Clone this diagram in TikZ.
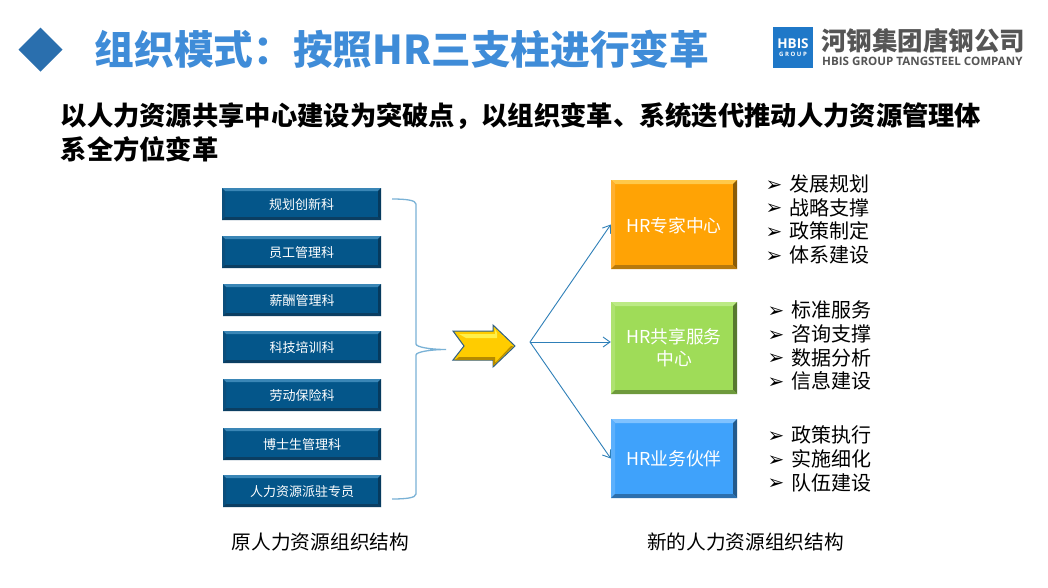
\documentclass[tikz,border=0pt]{standalone}
\usepackage{fontspec}
\setmainfont{Noto Sans CJK SC}
\newfontfamily\djv{DejaVu Sans}
\newfontfamily\lat{Open Sans}
\usetikzlibrary{arrows.meta}
\definecolor{ttl}{HTML}{3F8CD8}
\definecolor{dia}{HTML}{2A6FAE}
\definecolor{lnk}{HTML}{2E7FB8}
\definecolor{brk}{HTML}{7AB2D6}
\definecolor{navy}{HTML}{04568A}
\definecolor{lg}{HTML}{555555}
\definecolor{logob}{HTML}{1F78C8}
\definecolor{orgm}{HTML}{FFA305}
\definecolor{orgt}{HTML}{FFC94A}
\definecolor{orgs}{HTML}{FFB030}
\definecolor{orgr}{HTML}{8A5C08}
\definecolor{orgb}{HTML}{B87A0C}
\definecolor{grnm}{HTML}{9FDC58}
\definecolor{grnt}{HTML}{BCEA85}
\definecolor{grns}{HTML}{AEE270}
\definecolor{grnr}{HTML}{57792F}
\definecolor{grnb}{HTML}{6E9A3C}
\definecolor{blum}{HTML}{3FA2FB}
\definecolor{blut}{HTML}{7FC2FF}
\definecolor{blus}{HTML}{5CB0FC}
\definecolor{blur}{HTML}{235A8C}
\definecolor{blub}{HTML}{2C6FAD}
\definecolor{navt}{HTML}{3A86B6}
\definecolor{navs}{HTML}{0A4E7C}
\definecolor{navr}{HTML}{063A5E}
\definecolor{navb}{HTML}{0B3E62}
\definecolor{gold}{HTML}{FFCC00}
\definecolor{goldh}{HTML}{FFF04A}
\definecolor{goldd}{HTML}{B58A00}
\definecolor{arredge}{HTML}{2F5F86}
\tikzset{
  x=1pt,y=-1pt,
  bevel/.style n args={5}{draw=none,fill=#1,text=white,inner sep=0pt,align=center,
    path picture={
      \fill[#2] (path picture bounding box.north west) -- (path picture bounding box.north east) -- ([xshift=-\bw,yshift=-\bw]path picture bounding box.north east) -- ([xshift=\bw,yshift=-\bw]path picture bounding box.north west) -- cycle;
      \fill[#3] (path picture bounding box.north west) -- ([xshift=\bw,yshift=-\bw]path picture bounding box.north west) -- ([xshift=\bw,yshift=\bw]path picture bounding box.south west) -- (path picture bounding box.south west) -- cycle;
      \fill[#4] (path picture bounding box.north east) -- ([xshift=-\bw,yshift=-\bw]path picture bounding box.north east) -- ([xshift=-\bw,yshift=\bw]path picture bounding box.south east) -- (path picture bounding box.south east) -- cycle;
      \fill[#5] (path picture bounding box.south west) -- ([xshift=\bw,yshift=\bw]path picture bounding box.south west) -- ([xshift=-\bw,yshift=\bw]path picture bounding box.south east) -- (path picture bounding box.south east) -- cycle;
    }},
  oldbox/.style={bevel={navy}{navt}{navs}{navr}{navb},
    minimum height=32pt,font=\fontsize{13}{14}\selectfont},
  newbox/.style={minimum width=126pt,font=\fontsize{17.8}{22}\selectfont},
  tlist/.style={anchor=west,inner sep=0pt,font=\fontsize{20}{24}\selectfont},
  captext/.style={inner sep=0pt,font=\fontsize{19.7}{23}\selectfont},
  link/.style={draw=lnk,line width=0.9pt,-{Straight Barb[length=7pt,width=10pt,line width=0.9pt]}},
}
\newcommand{\bw}{3pt}
\newcommand{\bul}{\makebox[24pt][l]{\raisebox{0.5pt}{\djv\fontsize{20}{20}\selectfont ➢}}}
\newcommand{\dn}[1]{\raisebox{0pt}[\dimexpr\height+2pt][\depth]{#1}}
\begin{document}
\begin{tikzpicture}
\useasboundingbox (0,0) rectangle (1048,587);
\fill[white] (0,0) rectangle (1048,587);
% header
\fill[dia] (40.5,27.5) -- (62.5,49.5) -- (40.5,71.5) -- (18.5,49.5) -- cycle;
\node[anchor=west,inner sep=0pt,text=ttl,font=\bfseries\fontsize{39.7}{46}\selectfont] (title) at (94.5,49) {组织模式：按照HR三支柱进行变革};
% logo
\node[fill=logob,minimum width=40pt,minimum height=41pt,inner sep=0pt] (logobox) at (793,47.5) {};
\node[text=white,inner sep=0pt,font=\lat\bfseries\fontsize{13.5}{14}\selectfont] (logoa) at (793,43.5) {HBIS};
\node[text=white,inner sep=0pt,font=\lat\bfseries\fontsize{6}{7}\selectfont] (logob) at (793,54.5) {G R O U P};
\node[anchor=west,inner sep=0pt,text=lg,font=\bfseries\fontsize{25.5}{28}\selectfont] (logoc) at (821,41) {河钢集团唐钢公司};
\node[anchor=west,inner sep=0pt,text=lg,font=\lat\bfseries\fontsize{11.6}{13}\selectfont] (logod) at (822,61.5) {HBIS GROUP TANGSTEEL COMPANY};
% subtitle
\node[anchor=west,inner sep=0pt,font=\bfseries\fontsize{26.3}{30}\selectfont] (sub1) at (60.5,116) {以人力资源共享中心建设为突破点，以组织变革、系统迭代推动人力资源管理体};
\node[anchor=west,inner sep=0pt,font=\bfseries\fontsize{26.3}{30}\selectfont] (sub2) at (60.5,149) {系全方位变革};
% old boxes
\node[oldbox,minimum width=159pt] (o1) at (301.5,204) {\dn{规划创新科}};
\node[oldbox,minimum width=159pt] (o2) at (301.5,252) {\dn{员工管理科}};
\node[oldbox,minimum width=158pt] (o3) at (302,300) {\dn{薪酬管理科}};
\node[oldbox,minimum width=158pt] (o4) at (302,347) {\dn{科技培训科}};
\node[oldbox,minimum width=158pt] (o5) at (302,395) {\dn{劳动保险科}};
\node[oldbox,minimum width=158pt] (o6) at (302,444) {\dn{博士生管理科}};
\node[oldbox,minimum width=158pt] (o7) at (302,491) {\dn{人力资源派驻专员}};
% bracket
\coordinate (bt) at (392,199);
\coordinate (bm) at (446,349.5);
\coordinate (bb) at (392,499);
\draw[draw=brk,line width=1.3pt] (bt) .. controls (405,199) and (416,200) .. (416,204)
  -- (416,344) .. controls (416,347) and (430,349.5) .. (bm)
  .. controls (430,349.5) and (416,352) .. (416,355)
  -- (416,494) .. controls (416,498) and (405,499) .. (bb);
% block arrow
\fill[gold,draw=arredge,line width=1pt]
  (453,331) -- (493,331) -- (493,325) -- (515,346) -- (493,367) -- (493,360) -- (453,360) -- (464,346) -- cycle;
\fill[goldh] (459,334) -- (495,334) -- (495,329) -- (497,333) -- (497,338) -- (466,338) -- cycle;
\fill[goldd] (459,357) -- (495,357) -- (495,363) -- (511,346) -- (513,346) -- (493,366) -- (493,360) -- (455,360) -- cycle;
% new boxes
\def\bw{4pt}
\node[bevel={orgm}{orgt}{orgs}{orgr}{orgb},newbox,minimum height=89pt] (n1) at (674,224.5) {\dn{HR专家中心}};
\node[bevel={grnm}{grnt}{grns}{grnr}{grnb},newbox,minimum height=92pt] (n2) at (674,348) {HR共享服务\\中心};
\node[bevel={blum}{blut}{blus}{blur}{blub},newbox,minimum height=79pt] (n3) at (674,458.5) {HR业务伙伴};
% links
\coordinate (hub) at (530,342);
\draw[link] (hub) -- (n1.west);
\draw[link] (hub) -- (n2.west |- hub);
\draw[link] (hub) -- (n3.west);
% lists
\node[tlist] (a1) at (765.5,184) {\bul 发展规划};
\node[tlist] (a2) at (765.5,207.5) {\bul 战略支撑};
\node[tlist] (a3) at (765.5,231) {\bul 政策制定};
\node[tlist] (a4) at (765.5,255) {\bul 体系建设};
\node[tlist] (b1) at (767.5,310) {\bul 标准服务};
\node[tlist] (b2) at (767.5,334) {\bul 咨询支撑};
\node[tlist] (b3) at (767.5,357.5) {\bul 数据分析};
\node[tlist] (b4) at (767.5,381) {\bul 信息建设};
\node[tlist] (c1) at (767.5,435) {\bul 政策执行};
\node[tlist] (c2) at (767.5,459) {\bul 实施细化};
\node[tlist] (c3) at (767.5,482.5) {\bul 队伍建设};
% captions
\node[captext] (capa) at (320.5,542) {原人力资源组织结构};
\node[captext] (capb) at (745.5,542) {新的人力资源组织结构};
\end{tikzpicture}
\end{document}
